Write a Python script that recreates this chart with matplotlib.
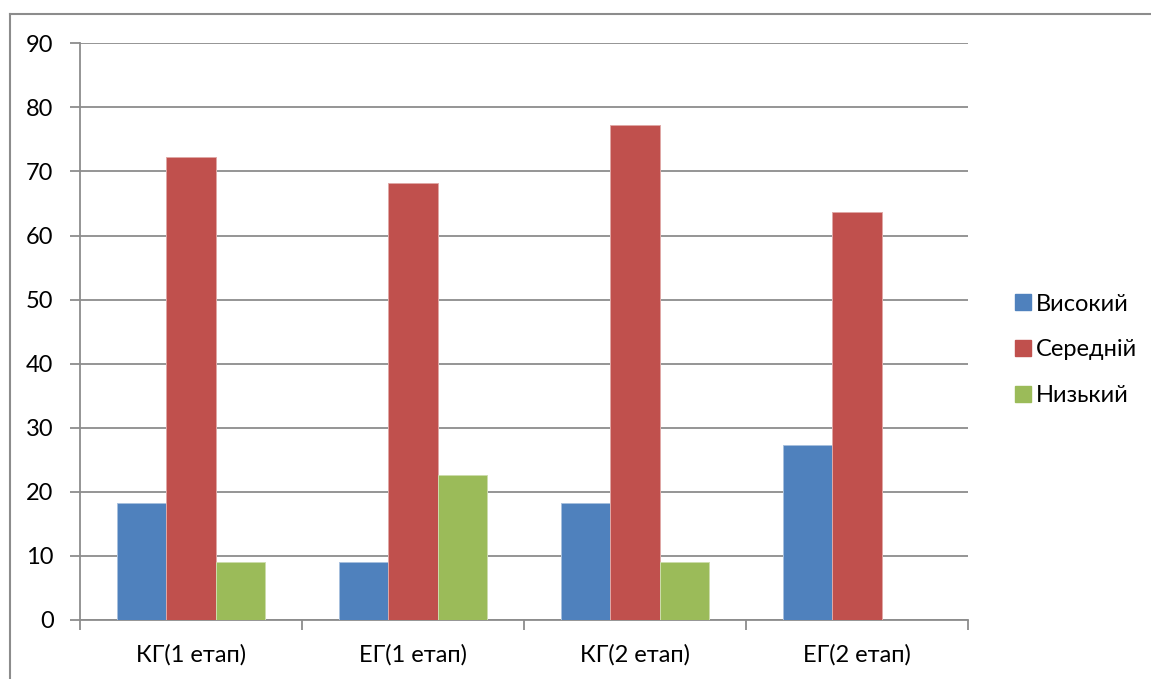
import matplotlib
matplotlib.use("Agg")
import matplotlib.pyplot as plt
from matplotlib.lines import Line2D
import numpy as np

plt.rcParams['font.family'] = ['Lato', 'DejaVu Sans']

categories = ["КГ(1 етап)", "ЕГ(1 етап)", "КГ(2 етап)", "ЕГ(2 етап)"]
series_names = ["Високий", "Середній", "Низький"]
high = [18.2, 9.1, 18.2, 27.3]
medium = [72.2, 68.2, 77.3, 63.6]
low = [9.1, 22.7, 9.1, 0.0]
y_ticks = [0, 10, 20, 30, 40, 50, 60, 70, 80, 90]

colors = ["#4F81BD", "#C0504D", "#9BBB59"]
edges = ["#A7C0DE", "#E0A8A6", "#CDDDAC"]
grid_color = "#8C8C8C"
fs = 17

W, H = 1151, 679
fig = plt.figure(figsize=(W / 100, H / 100), dpi=100)
ax = fig.add_axes([80 / W, 1 - 620 / H, (968 - 80) / W, (620 - 43.3) / H])

x = np.arange(len(categories))
bw = 1 / (1.5 * 3)
for i, (vals, c, ec) in enumerate(zip([high, medium, low], colors, edges)):
    ax.bar(x + (i - 1) * bw, vals, width=bw, color=c, edgecolor=ec,
           linewidth=0.7, zorder=3)

ax.set_xlim(-0.5, len(categories) - 0.5)
ax.set_ylim(0, 90)
ax.set_yticks(y_ticks)
ax.set_yticklabels([str(t) for t in y_ticks])
ax.yaxis.grid(True, color=grid_color, linewidth=1.3, zorder=0)
ax.set_axisbelow(True)

ax.set_xticks(x)
ax.set_xticklabels(categories)
ax.set_xticks(np.arange(len(categories) + 1) - 0.5, minor=True)
ax.tick_params(axis='x', which='major', length=0, pad=17, labelsize=fs)
ax.tick_params(axis='x', which='minor', length=7, width=1.3, color=grid_color,
               direction='out')
ax.tick_params(axis='y', length=7, width=1.3, color=grid_color, pad=12,
               labelsize=fs)

for s in ['top', 'right']:
    ax.spines[s].set_visible(False)
for s in ['left', 'bottom']:
    ax.spines[s].set_color(grid_color)
    ax.spines[s].set_linewidth(1.3)

# outer chart border (top and left edges)
fig.add_artist(Line2D([10 / W, 1.0], [1 - 14 / H, 1 - 14 / H],
                      transform=fig.transFigure, color="#8C8C8C", linewidth=1.5))
fig.add_artist(Line2D([10 / W, 10 / W], [0.0, 1 - 14 / H],
                      transform=fig.transFigure, color="#8C8C8C", linewidth=1.5))

handles = [Line2D([], [], marker='s', linestyle='None', markersize=11,
                  markerfacecolor=c, markeredgecolor=c) for c in colors]
fig.legend(handles, series_names, loc='center left',
           bbox_to_anchor=(999 / W, 1 - 350 / H), frameon=False,
           fontsize=fs, labelspacing=1.05, handletextpad=0.05,
           handlelength=1.0, borderpad=0)

fig.savefig("out.png", dpi=100)
